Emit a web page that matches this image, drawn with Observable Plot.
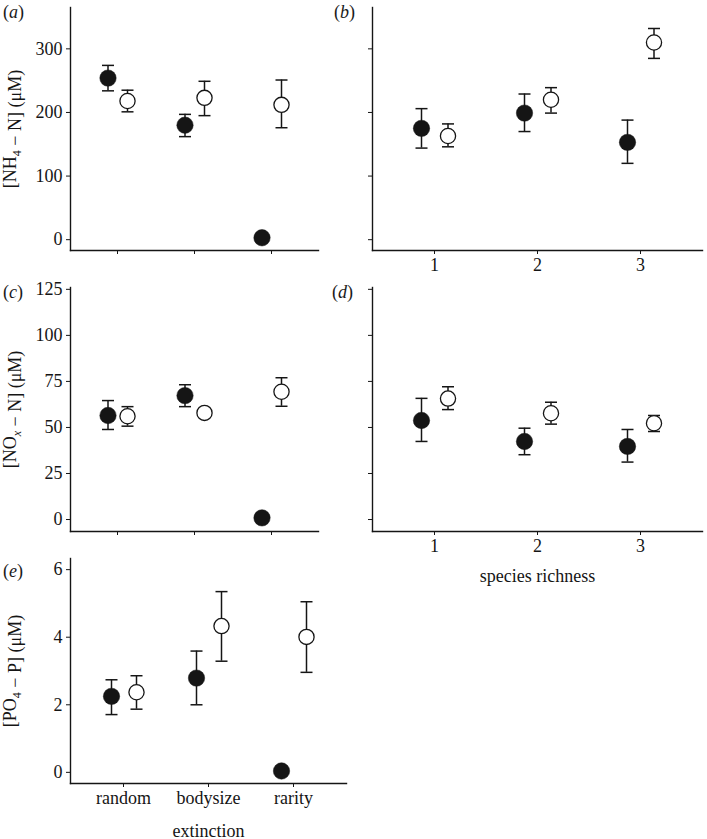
<!DOCTYPE html>
<html><head><meta charset="utf-8">
<script src="https://cdn.jsdelivr.net/npm/d3@7"></script>
<script src="https://cdn.jsdelivr.net/npm/@observablehq/plot@0.6"></script>
<style>
body{margin:0;background:#fff;font-family:"Liberation Serif","Times New Roman",serif;}
#chart{position:relative;width:707px;height:839px;background:#fff;}
.panel{position:absolute;}
.plab{position:absolute;font-size:18px;line-height:18px;color:#1a1a1a;white-space:nowrap;}
</style></head><body><div id="chart"></div>
<script>
// categories
const extinction = ["random", "bodysize", "rarity"];
const richness = ["1", "2", "3"];

// (a) NH4 by extinction scenario
const nh4ExtClosed = [254, 180, 3];
const nh4ExtClosedLo = [234, 162, null];
const nh4ExtClosedHi = [274, 197, null];
const nh4ExtOpen = [218, 223, 212];
const nh4ExtOpenLo = [201, 195, 176];
const nh4ExtOpenHi = [235, 249, 251];

// (b) NH4 by species richness
const nh4RichClosed = [175, 199, 153];
const nh4RichClosedLo = [144, 170, 120];
const nh4RichClosedHi = [206, 229, 188];
const nh4RichOpen = [163, 220, 310];
const nh4RichOpenLo = [146, 199, 285];
const nh4RichOpenHi = [182, 239, 332];

// (c) NOx by extinction scenario
const noxExtClosed = [56.5, 67.3, 0.9];
const noxExtClosedLo = [48.9, 61.3, null];
const noxExtClosedHi = [64.6, 73.2, null];
const noxExtOpen = [56.1, 57.9, 69.4];
const noxExtOpenLo = [50.7, null, 61.5];
const noxExtOpenHi = [61.3, null, 77.0];

// (d) NOx by species richness
const noxRichClosed = [53.8, 42.4, 39.7];
const noxRichClosedLo = [42.4, 35.2, 31.2];
const noxRichClosedHi = [65.8, 49.6, 48.9];
const noxRichOpen = [65.7, 57.7, 52.3];
const noxRichOpenLo = [59.7, 51.8, 47.8];
const noxRichOpenHi = [72.1, 63.7, 56.5];

// (e) PO4 by extinction scenario
const po4ExtClosed = [2.25, 2.79, 0.04];
const po4ExtClosedLo = [1.71, 2.0, null];
const po4ExtClosedHi = [2.74, 3.59, null];
const po4ExtOpen = [2.37, 4.33, 4.01];
const po4ExtOpenLo = [1.87, 3.29, 2.96];
const po4ExtOpenHi = [2.86, 5.35, 5.05];

// tick values
const nh4Ticks = [0, 100, 200, 300];
const noxTicks = [0, 25, 50, 75, 100, 125];
const po4Ticks = [0, 2, 4, 6];

function rows(cats, mean, lo, hi) {
  return cats.map((c, i) => ({cat: c, mean: mean[i], lo: lo[i], hi: hi[i]}));
}

const capSymbol = {
  draw(context, size) {
    const r = Math.sqrt(size / Math.PI);
    context.moveTo(-r, 0);
    context.lineTo(r, 0);
  }
};

const INK = "#151515";
const chart = document.getElementById("chart");

function labelParts(text, parts) {
  text.textContent = "";
  const ns = "http://www.w3.org/2000/svg";
  for (const p of parts) {
    const t = document.createElementNS(ns, "tspan");
    if (typeof p === "string") {
      t.textContent = p;
    } else {
      t.textContent = p.sub;
      t.setAttribute("font-size", "12px");
      t.setAttribute("dy", "5");
      if (p.italic) t.setAttribute("font-style", "italic");
    }
    text.appendChild(t);
    if (typeof p !== "string") {
      const back = document.createElementNS(ns, "tspan");
      back.setAttribute("dy", "-5");
      back.textContent = "";
      text.appendChild(back);
    }
  }
}

function panel(o) {
  const closed = rows(o.cats, o.closed[0], o.closed[1], o.closed[2]);
  const open = rows(o.cats, o.open[0], o.open[1], o.open[2]);
  const hasErr = d => d.lo != null && d.hi != null;
  const errMarks = (data, dx) => [
    Plot.ruleX(data.filter(hasErr), {x: "cat", y1: "lo", y2: "hi", dx, stroke: INK, strokeWidth: 1.5}),
    Plot.dot(data.filter(hasErr), {x: "cat", y: "hi", dx, symbol: capSymbol, r: 6, stroke: INK, strokeWidth: 1.5}),
    Plot.dot(data.filter(hasErr), {x: "cat", y: "lo", dx, symbol: capSymbol, r: 6, stroke: INK, strokeWidth: 1.5})
  ];
  const svg = Plot.plot({
    width: o.width,
    height: o.height,
    marginLeft: o.ml, marginRight: o.mr, marginTop: o.mt, marginBottom: o.mb,
    style: {fontFamily: "'Liberation Serif', 'Times New Roman', serif", fontSize: "18px", color: INK, background: "transparent", overflow: "visible"},
    x: {type: "point", domain: o.cats, padding: o.padding},
    y: {domain: o.yDomain},
    marks: [
      Plot.frame({anchor: "left", stroke: INK, strokeWidth: 1.4}),
      Plot.frame({anchor: "bottom", stroke: INK, strokeWidth: 1.4}),
      o.yLabels
        ? Plot.axisY({ticks: o.yTicks, tickFormat: d => String(d), tickSize: 4, tickPadding: 4, label: "y", labelArrow: "none", labelAnchor: "center", fontSize: 18})
        : Plot.axisY({ticks: o.yTicks, tickSize: 4, fill: "none", label: null}),
      o.xLabels
        ? Plot.axisX({tickSize: 4, tickPadding: 4, fontSize: 18, label: o.xTitle ?? null, labelArrow: "none", labelAnchor: "center", labelOffset: o.xLabelOffset})
        : Plot.axisX({tickSize: 4, fill: "none", label: null}),
      ...errMarks(closed, o.dxClosed),
      ...errMarks(open, o.dxOpen),
      Plot.dot(closed, {x: "cat", y: "mean", dx: o.dxClosed, r: 8.2, fill: INK, stroke: INK, strokeWidth: 0.5}),
      Plot.dot(open, {x: "cat", y: "mean", dx: o.dxOpen, r: 7.6, fill: "white", stroke: INK, strokeWidth: 1.3})
    ]
  });
  if (o.yLabels && o.yParts) {
    const t = svg.querySelector('g[aria-label="y-axis label"] text');
    if (t) labelParts(t, o.yParts);
  }
  const wrap = document.createElement("div");
  wrap.className = "panel";
  wrap.style.left = o.left + "px";
  wrap.style.top = o.top + "px";
  wrap.appendChild(svg);
  chart.appendChild(wrap);
}

panel({left: 0, top: 0, width: 360, height: 280, ml: 70, mr: 42, mt: 7, mb: 30,
  cats: extinction, padding: 0.59, yDomain: [-17, 365], yTicks: nh4Ticks, yLabels: true,
  yParts: ["[NH", {sub: "4"}, " \u2212 N] (\u03bcM)"], xLabels: false,
  closed: [nh4ExtClosed, nh4ExtClosedLo, nh4ExtClosedHi], open: [nh4ExtOpen, nh4ExtOpenLo, nh4ExtOpenHi],
  dxClosed: -9.5, dxOpen: 10});

panel({left: 360, top: 0, width: 347, height: 280, ml: 12, mr: 5, mt: 7, mb: 30,
  cats: richness, padding: 0.59, yDomain: [-17, 365], yTicks: nh4Ticks, yLabels: false, xLabels: true,
  closed: [nh4RichClosed, nh4RichClosedLo, nh4RichClosedHi], open: [nh4RichOpen, nh4RichOpenLo, nh4RichOpenHi],
  dxClosed: -13, dxOpen: 13.5});

panel({left: 0, top: 280, width: 360, height: 270, ml: 70, mr: 42, mt: 7, mb: 19,
  cats: extinction, padding: 0.59, yDomain: [-6.5, 126], yTicks: noxTicks, yLabels: true,
  yParts: ["[NO", {sub: "x", italic: true}, " \u2212 N] (\u03bcM)"], xLabels: false,
  closed: [noxExtClosed, noxExtClosedLo, noxExtClosedHi], open: [noxExtOpen, noxExtOpenLo, noxExtOpenHi],
  dxClosed: -9.5, dxOpen: 10});

panel({left: 360, top: 280, width: 347, height: 310, ml: 12, mr: 5, mt: 7, mb: 59,
  cats: richness, padding: 0.59, yDomain: [-6.5, 126], yTicks: noxTicks, yLabels: false, xLabels: true,
  xTitle: "species richness", xLabelOffset: 50,
  closed: [noxRichClosed, noxRichClosedLo, noxRichClosedHi], open: [noxRichOpen, noxRichOpenLo, noxRichOpenHi],
  dxClosed: -13, dxOpen: 13.5});

panel({left: 0, top: 550, width: 360, height: 289, ml: 70, mr: 14, mt: 8, mb: 56,
  cats: extinction, padding: 0.605, yDomain: [-0.33, 6.33], yTicks: po4Ticks, yLabels: true,
  yParts: ["[PO", {sub: "4"}, " \u2212 P] (\u03bcM)"], xLabels: true,
  xTitle: "extinction", xLabelOffset: 53,
  closed: [po4ExtClosed, po4ExtClosedLo, po4ExtClosedHi], open: [po4ExtOpen, po4ExtOpenLo, po4ExtOpenHi],
  dxClosed: -12, dxOpen: 13});

// panel letters
const panelLetters = [
  {letter: "a", left: 3, top: 3},
  {letter: "b", left: 334, top: 3},
  {letter: "c", left: 3, top: 283},
  {letter: "d", left: 332, top: 283},
  {letter: "e", left: 3, top: 562}
];
for (const p of panelLetters) {
  const d = document.createElement("div");
  d.className = "plab";
  d.style.left = p.left + "px";
  d.style.top = p.top + "px";
  d.innerHTML = "(<i>" + p.letter + "</i>)";
  chart.appendChild(d);
}
</script></body></html>
